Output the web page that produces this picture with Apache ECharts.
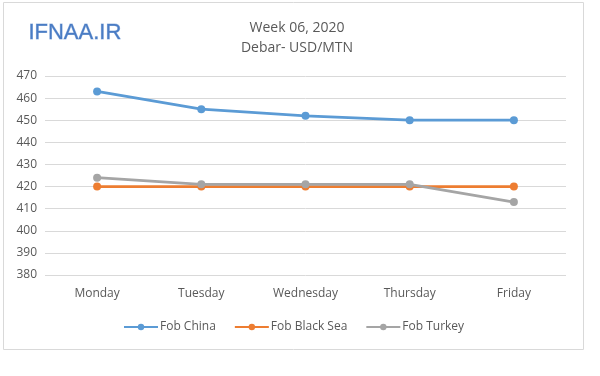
<!DOCTYPE html>
<html><head><meta charset="utf-8">
<script src="https://cdn.jsdelivr.net/npm/echarts@6/dist/echarts.min.js"></script>
<style>html,body{margin:0;padding:0;background:#fff}#c{width:600px;height:376px}</style>
</head><body><div id="c"></div>
<script>
const categories = ['Monday','Tuesday','Wednesday','Thursday','Friday'];
const fobChina = [463, 455, 452, 450, 450];
const fobBlackSea = [420, 420, 420, 420, 420];
const fobTurkey = [424, 421, 421, 421, 413];
const seriesNames = ['Fob China','Fob Black Sea','Fob Turkey'];
const seriesColors = ['#5b9bd5','#ed7d31','#a5a5a5'];
const titleLines = ['Week 06, 2020','Debar- USD/MTN'];
const logoText = 'IFNAA.IR';

const font = 'Open Sans';
const chart = echarts.init(document.getElementById('c'));
const mk = (name, data, color, z) => ({
  name, type: 'line', data, z,
  symbol: 'circle', symbolSize: 8,
  lineStyle: {color, width: 2.75},
  itemStyle: {color},
  emphasis: {disabled: true}
});
chart.setOption({
  animation: false,
  graphic: [
    {type: 'rect', shape: {x: 3.5, y: 2.5, width: 580, height: 347}, style: {fill: 'none', stroke: '#d9d9d9', lineWidth: 1}, z: 0},
    {type: 'text', left: 28, top: 22, style: {text: logoText, fill: '#4a7cc4', stroke: '#a9c2e6', lineWidth: 0.8, font: '22px "Liberation Sans"'}}
  ],
  title: {
    text: titleLines[0] + '\n' + titleLines[1],
    left: 292, top: 13, textAlign: 'center',
    textStyle: {color: '#595959', fontFamily: font, fontSize: 14, fontWeight: 'normal', lineHeight: 20}
  },
  legend: {
    bottom: 38, left: 118, itemGap: 18, itemWidth: 34, itemHeight: 8,
    textStyle: {color: '#595959', fontFamily: font, fontSize: 12, padding: [0,0,0,-3]},
    data: seriesNames
  },
  grid: {left: 45, right: 34, top: 76, bottom: 101},
  xAxis: {
    type: 'category', data: categories, boundaryGap: true,
    axisLine: {show: false}, axisTick: {show: false},
    axisLabel: {color: '#595959', fontFamily: font, fontSize: 12, margin: 13}
  },
  yAxis: {
    type: 'value', min: 380, max: 470, interval: 10,
    axisLine: {show: false}, axisTick: {show: false},
    axisLabel: {color: '#595959', fontFamily: font, fontSize: 12, margin: 8},
    splitLine: {lineStyle: {color: '#d9d9d9', width: 1}}
  },
  series: [
    mk(seriesNames[0], fobChina, seriesColors[0], 3),
    mk(seriesNames[1], fobBlackSea, seriesColors[1], 2),
    mk(seriesNames[2], fobTurkey, seriesColors[2], 4)
  ]
});
</script></body></html>
